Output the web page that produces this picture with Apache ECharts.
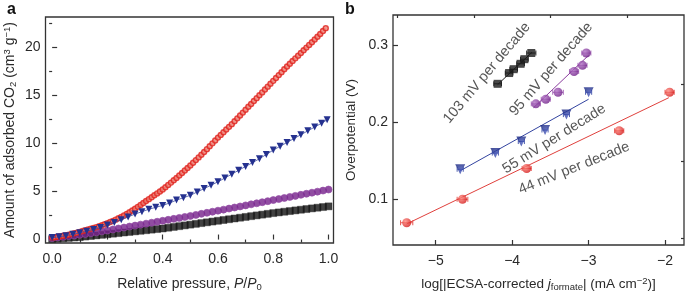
<!DOCTYPE html>
<html><head><meta charset="utf-8">
<script src="https://cdn.jsdelivr.net/npm/echarts@6/dist/echarts.min.js"></script>
<style>html,body{margin:0;padding:0;background:#fff}#c{width:685px;height:297px}</style>
</head><body><div id="c"></div>
<script>
// ---------- Panel a data ----------
const redX = [0.00,0.01,0.02,0.03,0.04,0.05,0.06,0.07,0.08,0.09,0.10,0.11,0.12,0.13,0.14,0.15,0.16,0.17,0.18,0.19,0.20,0.21,0.22,0.23,0.24,0.25,0.26,0.27,0.28,0.29,0.30,0.31,0.32,0.33,0.34,0.35,0.36,0.37,0.38,0.39,0.40,0.41,0.42,0.43,0.44,0.45,0.46,0.47,0.48,0.49,0.50,0.51,0.52,0.53,0.54,0.55,0.56,0.57,0.58,0.59,0.60,0.61,0.62,0.63,0.64,0.65,0.66,0.67,0.68,0.69,0.70,0.71,0.72,0.73,0.74,0.75,0.76,0.77,0.78,0.79,0.80,0.81,0.82,0.83,0.84,0.85,0.86,0.87,0.88,0.89,0.90,0.91,0.92,0.93,0.94,0.95,0.96,0.97,0.98,0.99];
const redY = [0.20,0.24,0.29,0.34,0.39,0.45,0.51,0.58,0.65,0.72,0.80,0.88,0.96,1.04,1.12,1.20,1.29,1.39,1.49,1.59,1.70,1.82,1.94,2.07,2.21,2.35,2.51,2.67,2.84,3.02,3.20,3.40,3.60,3.80,4.00,4.20,4.40,4.60,4.80,5.00,5.20,5.44,5.68,5.92,6.16,6.40,6.66,6.92,7.18,7.44,7.70,7.98,8.26,8.54,8.82,9.10,9.40,9.70,10.00,10.30,10.60,10.88,11.16,11.44,11.72,12.00,12.30,12.60,12.90,13.20,13.50,13.80,14.10,14.40,14.70,15.00,15.30,15.60,15.90,16.20,16.50,16.80,17.10,17.40,17.70,18.00,18.28,18.56,18.84,19.12,19.40,19.68,19.96,20.24,20.52,20.80,21.08,21.38,21.68,21.98];
const blueX = [0.000,0.025,0.050,0.075,0.100,0.125,0.150,0.175,0.200,0.225,0.250,0.275,0.300,0.325,0.350,0.375,0.400,0.425,0.450,0.475,0.500,0.525,0.550,0.575,0.600,0.625,0.650,0.675,0.700,0.725,0.750,0.775,0.800,0.825,0.850,0.875,0.900,0.925,0.950,0.975,0.995];
const blueY = [0.20,0.28,0.40,0.54,0.70,0.87,1.05,1.26,1.50,1.77,2.05,2.35,2.65,2.90,3.15,3.35,3.55,3.80,4.10,4.35,4.60,4.95,5.30,5.65,6.00,6.40,6.80,7.20,7.60,8.00,8.40,8.85,9.30,9.70,10.10,10.50,10.90,11.30,11.70,12.10,12.45];
const densX = [0.00,0.02,0.04,0.06,0.08,0.10,0.12,0.14,0.16,0.18,0.20,0.22,0.24,0.26,0.28,0.30,0.32,0.34,0.36,0.38,0.40,0.42,0.44,0.46,0.48,0.50,0.52,0.54,0.56,0.58,0.60,0.62,0.64,0.66,0.68,0.70,0.72,0.74,0.76,0.78,0.80,0.82,0.84,0.86,0.88,0.90,0.92,0.94,0.96,0.98,1.00];
const purpleY = [0.15,0.22,0.28,0.36,0.43,0.50,0.58,0.66,0.75,0.85,0.95,1.05,1.15,1.25,1.35,1.45,1.55,1.65,1.75,1.85,1.95,2.05,2.15,2.25,2.35,2.45,2.56,2.67,2.78,2.89,3.00,3.11,3.22,3.33,3.44,3.55,3.66,3.77,3.88,3.99,4.10,4.21,4.32,4.43,4.54,4.65,4.76,4.87,4.98,5.09,5.20];
const blackY = [0.05,0.09,0.13,0.17,0.21,0.25,0.31,0.37,0.43,0.49,0.55,0.61,0.67,0.73,0.79,0.85,0.91,0.97,1.03,1.09,1.15,1.23,1.31,1.39,1.47,1.55,1.63,1.71,1.79,1.87,1.95,2.03,2.11,2.19,2.27,2.35,2.43,2.51,2.59,2.67,2.75,2.82,2.89,2.96,3.03,3.10,3.17,3.24,3.31,3.38,3.45];
const aXTicks = [0, 0.2, 0.4, 0.6, 0.8, 1.0];
const aXMinor = [0.1, 0.3, 0.5, 0.7, 0.9];
const aYTicks = [0, 5, 10, 15, 20];
const aYMinor = [2.5, 7.5, 12.5, 17.5, 22.5];

// ---------- Panel b data ----------
const blkX = [-4.19,-4.04,-3.98,-3.89,-3.84,-3.75];
const blkY = [0.250,0.264,0.269,0.276,0.282,0.290];
const blkErr = [0.05,0.05,0.05,0.05,0.05,0.06];
const purX = [-3.69,-3.56,-3.40,-3.19,-3.08,-3.03];
const purY = [0.224,0.230,0.239,0.266,0.274,0.290];
const purErr = [0.06,0.06,0.07,0.06,0.06,0.06];
const bluX = [-4.68,-4.22,-3.88,-3.57,-3.29,-3.00];
const bluY = [0.139,0.160,0.175,0.190,0.210,0.239];
const bluErr = [0.04,0.04,0.04,0.04,0.04,0.04];
const redBX = [-5.38,-4.65,-3.81,-2.60,-1.94];
const redBY = [0.0695,0.100,0.140,0.189,0.239];
const redBErr = [0.08,0.07,0.06,0.06,0.06];
const fitBlk = [[-4.19,0.249],[-3.74,0.291]];
const fitPur = [[-3.72,0.219],[-3.00,0.287]];
const fitBlu = [[-4.68,0.137],[-3.00,0.230]];
const fitRed = [[-5.38,0.068],[-1.95,0.232]];
const annText = ['103 mV per decade','95 mV per decade','55 mV per decade','44 mV per decade'];
const annX = [-4.33,-3.49,-3.45,-3.19];
const annY = [0.264,0.269,0.1785,0.1405];
const annRot = [50,49,32,22];
const bXTicks = [-5,-4,-3,-2];
const bXMinor = [-5.5,-4.5,-3.5,-2.5];
const bYTicks = [0.1,0.2,0.3];
const bYMinor = [0.05,0.15,0.25];

const FONT = 'Liberation Sans, Arial, Helvetica, sans-serif';
const TXT = '#2a2a2a';
const zip = (xs, ys) => xs.map((x, i) => [x, ys[i]]);
const zip3 = (xs, ys, es) => xs.map((x, i) => [x, ys[i], es[i]]);

function mainAxis(gi, type, min, max, ticks, name, extra) {
  return Object.assign({
    type: 'value', gridIndex: gi, min: min, max: max,
    axisLine: {show: false}, splitLine: {show: false},
    axisTick: {show: true, inside: true, length: 5, lineStyle: {color: '#333', width: 1.2}, customValues: ticks},
    axisLabel: {show: true, customValues: ticks, color: TXT, fontFamily: FONT, fontSize: 14, margin: type === 'x' ? 9 : 5},
    name: name, nameLocation: 'middle'
  }, extra || {});
}
function minorAxis(gi, min, max, ticks) {
  return {
    type: 'value', gridIndex: gi, min: min, max: max,
    axisLine: {show: false}, splitLine: {show: false},
    axisTick: {show: true, inside: true, length: 3, lineStyle: {color: '#333', width: 1.2}, customValues: ticks},
    axisLabel: {show: false}
  };
}
const sub = {fontSize: 9.5, fontFamily: FONT, color: TXT, verticalAlign: 'bottom', padding: [6, 0, 0, 0]};
const sup = {fontSize: 9.5, fontFamily: FONT, color: TXT, verticalAlign: 'top', padding: [0, 0, 6, 0]};
const it = {fontSize: 14, fontFamily: FONT, color: TXT, fontStyle: 'italic'};

function errBar(color) {
  return function (params, api) {
    const x = api.value(0), y = api.value(1), e = api.value(2);
    const l = api.coord([x - e, y]), r = api.coord([x + e, y]);
    const st = {stroke: color, lineWidth: 1};
    return {type: 'group', children: [
      {type: 'line', shape: {x1: l[0], y1: l[1], x2: r[0], y2: r[1]}, style: st},
      {type: 'line', shape: {x1: l[0], y1: l[1] - 2.5, x2: l[0], y2: l[1] + 2.5}, style: st},
      {type: 'line', shape: {x1: r[0], y1: r[1] - 2.5, x2: r[0], y2: r[1] + 2.5}, style: st}
    ]};
  };
}
function sphere(c1, c2) {
  return {type: 'radial', x: 0.35, y: 0.35, r: 0.7, colorStops: [{offset: 0, color: c1}, {offset: 1, color: c2}]};
}

const option = {
  animation: false,
  backgroundColor: '#fff',
  textStyle: {fontFamily: FONT},
  graphic: [
    {type: 'text', left: 7, top: 2, style: {text: 'a', font: 'bold 16px ' + FONT, fill: '#111'}},
    {type: 'text', left: 345, top: 2, style: {text: 'b', font: 'bold 16px ' + FONT, fill: '#111'}}
  ],
  grid: [
    {left: 45.5, top: 17, width: 288, height: 230, show: true, borderColor: '#333', borderWidth: 1.3, backgroundColor: 'transparent'},
    {left: 393, top: 15, width: 291, height: 235, show: true, borderColor: '#333', borderWidth: 1.3, backgroundColor: 'transparent'}
  ],
  xAxis: [
    mainAxis(0, 'x', -0.024, 1.018, aXTicks, 'Relative pressure, {i|P}/{i|P}{s|0}',
      {nameGap: 33, nameTextStyle: {color: TXT, fontFamily: FONT, fontSize: 14, rich: {i: it, s: sub}},
       axisLabel: {show: true, customValues: aXTicks, color: TXT, fontFamily: FONT, fontSize: 14, margin: 9, formatter: v => v.toFixed(1)}}),
    minorAxis(0, -0.024, 1.018, aXMinor),
    mainAxis(1, 'x', -5.559, -1.752, bXTicks, 'log[|ECSA-corrected {i|j}{s|formate}| (mA cm{p|−2})]',
      {nameGap: 31, nameTextStyle: {color: TXT, fontFamily: FONT, fontSize: 13.5, rich: {i: Object.assign({}, it, {fontSize: 13.5}), s: sub, p: sup}},
       axisLabel: {show: true, customValues: bXTicks, color: TXT, fontFamily: FONT, fontSize: 14, margin: 9, formatter: v => (v < 0 ? '−' + Math.abs(v) : '' + v)}}),
    minorAxis(1, -5.559, -1.752, bXMinor)
  ],
  yAxis: [
    mainAxis(0, 'y', -0.36, 23.14, aYTicks, 'Amount of adsorbed CO{s|2} (cm{p|3} g{p|−1})',
      {nameGap: 27, nameTextStyle: {color: TXT, fontFamily: FONT, fontSize: 14, rich: {s: sub, p: sup}}}),
    minorAxis(0, -0.36, 23.14, aYMinor),
    mainAxis(1, 'y', 0.0406, 0.3394, bYTicks, 'Overpotential (V)',
      {nameGap: 35, nameTextStyle: {color: TXT, fontFamily: FONT, fontSize: 13.5},
       axisLabel: {show: true, customValues: bYTicks, color: TXT, fontFamily: FONT, fontSize: 14, margin: 5, formatter: v => v.toFixed(1)}}),
    minorAxis(1, 0.0406, 0.3394, bYMinor)
  ],
  series: [
    // panel a
    {type: 'scatter', xAxisIndex: 0, yAxisIndex: 0, data: zip(densX, blackY), symbol: 'rect', symbolSize: 7,
     itemStyle: {color: '#111', borderColor: '#2a2a2a', borderWidth: 0.5}},
    {type: 'scatter', xAxisIndex: 0, yAxisIndex: 0, data: zip(densX, purpleY), symbol: 'circle', symbolSize: 7,
     itemStyle: {color: '#74218a', borderColor: '#9348a6', borderWidth: 0.8}},
    {type: 'line', xAxisIndex: 0, yAxisIndex: 0, data: zip(blueX, blueY), symbol: 'triangle', symbolRotate: 180, symbolSize: 7,
     showSymbol: true, lineStyle: {color: '#3a4aa0', width: 0.8}, itemStyle: {color: '#25318f'}},
    {type: 'scatter', xAxisIndex: 0, yAxisIndex: 0, data: zip(redX, redY), symbol: 'circle', symbolSize: 5,
     itemStyle: {color: '#ec7f74', borderColor: '#e0201c', borderWidth: 1.4}},
    // panel b fit lines
    {type: 'line', xAxisIndex: 2, yAxisIndex: 2, data: fitBlk, symbol: 'none', lineStyle: {color: '#222', width: 1}},
    {type: 'line', xAxisIndex: 2, yAxisIndex: 2, data: fitPur, symbol: 'none', lineStyle: {color: '#8b3c9e', width: 1}},
    {type: 'line', xAxisIndex: 2, yAxisIndex: 2, data: fitBlu, symbol: 'none', lineStyle: {color: '#3344a0', width: 1}},
    {type: 'line', xAxisIndex: 2, yAxisIndex: 2, data: fitRed, symbol: 'none', lineStyle: {color: '#e0403c', width: 1}},
    // error bars
    {type: 'custom', xAxisIndex: 2, yAxisIndex: 2, data: zip3(blkX, blkY, blkErr), renderItem: errBar('#222')},
    {type: 'custom', xAxisIndex: 2, yAxisIndex: 2, data: zip3(purX, purY, purErr), renderItem: errBar('#b078c0')},
    {type: 'custom', xAxisIndex: 2, yAxisIndex: 2, data: zip3(bluX, bluY, bluErr), renderItem: errBar('#5060b0')},
    {type: 'custom', xAxisIndex: 2, yAxisIndex: 2, data: zip3(redBX, redBY, redBErr), renderItem: errBar('#e85a55')},
    // markers
    {type: 'scatter', xAxisIndex: 2, yAxisIndex: 2, data: zip(blkX, blkY), symbol: 'rect', symbolSize: 8, itemStyle: {color: '#1a1a1a'}, z: 5},
    {type: 'scatter', xAxisIndex: 2, yAxisIndex: 2, data: zip(purX, purY), symbol: 'circle', symbolSize: 9, itemStyle: {color: sphere('#b070c4', '#6f1f88')}, z: 5},
    {type: 'scatter', xAxisIndex: 2, yAxisIndex: 2, data: zip(bluX, bluY), symbol: 'triangle', symbolRotate: 180, symbolSize: 10, itemStyle: {color: sphere('#4a5cc0', '#1c2a85')}, z: 5},
    {type: 'scatter', xAxisIndex: 2, yAxisIndex: 2, data: zip(redBX, redBY), symbol: 'circle', symbolSize: 9, itemStyle: {color: sphere('#ff8a80', '#d41818')}, z: 5},
    // annotations
    {type: 'scatter', xAxisIndex: 2, yAxisIndex: 2, symbolSize: 2, itemStyle: {color: 'rgba(0,0,0,0)'}, silent: true, z: 6,
     labelLayout: {hideOverlap: false},
     data: annText.map((t, i) => ({name: t, value: [annX[i], annY[i]],
       label: {show: true, position: 'inside', formatter: t, rotate: annRot[i], color: TXT, fontFamily: FONT, fontSize: 14.5, align: 'center', verticalAlign: 'middle'}}))}
  ]
};
const chart = echarts.init(document.getElementById('c'), null, {renderer: 'canvas'});
chart.setOption(option);
</script></body></html>
